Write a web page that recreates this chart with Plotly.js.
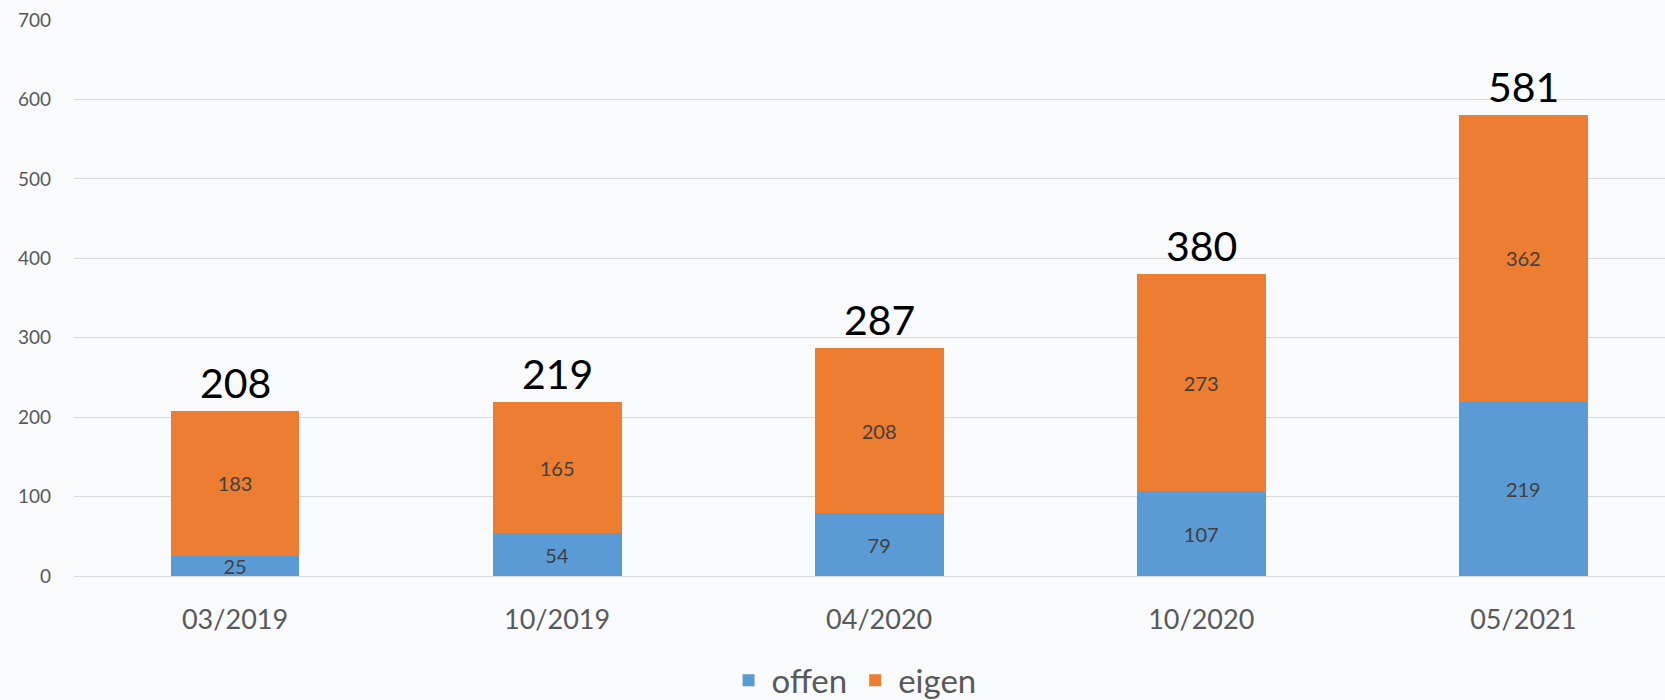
<!DOCTYPE html>
<html>
<head>
<meta charset="utf-8">
<script src="https://cdn.plot.ly/plotly-3.0.1.min.js"></script>
<style>
  html, body { margin: 0; padding: 0; background: #f8fafc; }
  #chart { width: 1665px; height: 700px; }
</style>
</head>
<body>
<div id="chart"></div>
<script>
// Stacked bars: offen / eigen per date
const categories = ['03/2019', '10/2019', '04/2020', '10/2020', '05/2021'];
const offen = [25, 54, 79, 107, 219];
const eigen = [183, 165, 208, 273, 362];
const totals = categories.map((_, i) => offen[i] + eigen[i]);

const fontFamily = 'Lato, "Open Sans", sans-serif';
const segFont = { family: fontFamily, size: 20, color: '#404040' };

const data = [{
    x: categories,
    y: offen,
    name: 'offen',
    type: 'bar',
    marker: { color: '#5b9bd5' },
    text: offen.map(String),
    textposition: 'inside',
    insidetextanchor: 'middle',
    textangle: 0,
    textfont: segFont
}, {
    x: categories,
    y: eigen,
    name: 'eigen',
    type: 'bar',
    marker: { color: '#ed7d31' },
    text: eigen.map(String),
    textposition: 'inside',
    insidetextanchor: 'middle',
    textangle: 0,
    textfont: segFont
}];

// Total labels above each stack
const annotations = categories.map((c, i) => ({
    x: c,
    y: totals[i],
    text: String(totals[i]),
    showarrow: false,
    xanchor: 'center',
    yanchor: 'bottom',
    yshift: 2,
    font: { family: fontFamily, size: 41, color: '#000000' }
}));

const layout = {
    width: 1665,
    height: 700,
    barmode: 'stack',
    bargap: 0.6,
    paper_bgcolor: '#f8fafc',
    plot_bgcolor: 'rgba(0,0,0,0)',
    margin: { l: 74, r: 0, t: 20, b: 124, autoexpand: false },
    font: { family: fontFamily, color: '#595959' },
    uniformtext: { mode: 'show', minsize: 20 },
    xaxis: {
        type: 'category',
        range: [-0.5, 4.44],
        showgrid: false,
        showline: false,
        ticks: '',
        ticklabelstandoff: 25,
        automargin: false,
        tickfont: { family: fontFamily, size: 27, color: '#595959' },
        fixedrange: true
    },
    yaxis: {
        range: [0, 700],
        dtick: 100,
        showgrid: true,
        gridcolor: '#d9d9d9',
        gridwidth: 1,
        zeroline: true,
        zerolinecolor: '#d9d9d9',
        zerolinewidth: 1,
        ticks: '',
        ticklabelstandoff: 22,
        automargin: false,
        tickfont: { family: fontFamily, size: 19, color: '#595959' },
        fixedrange: true
    },
    showlegend: true,
    legend: {
        orientation: 'h',
        x: 0.49,
        xanchor: 'center',
        yref: 'container',
        y: 0.028,
        yanchor: 'middle',
        traceorder: 'normal',
        itemwidth: 36,
        font: { family: fontFamily, size: 33, color: '#595959' },
        bgcolor: 'rgba(0,0,0,0)'
    },
    annotations: annotations
};

Plotly.newPlot('chart', data, layout, { displayModeBar: false, staticPlot: true });
</script>
</body>
</html>
